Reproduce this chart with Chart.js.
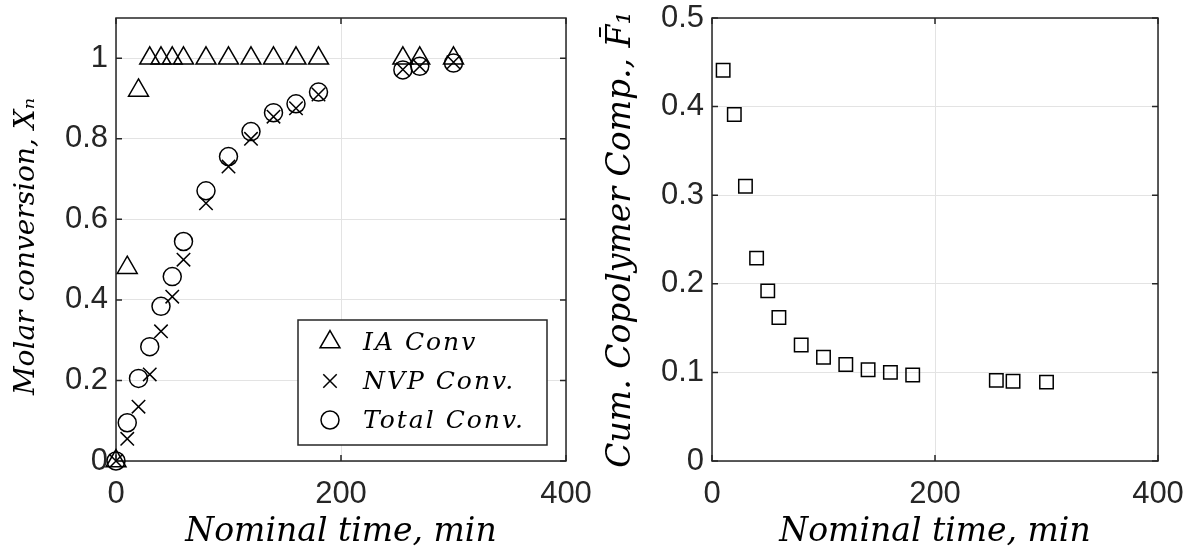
<!DOCTYPE html>
<html>
<head>
<meta charset="utf-8">
<script src="https://cdn.jsdelivr.net/npm/chart.js@4/dist/chart.umd.min.js"></script>
<style>
    html, body { margin: 0; padding: 0; background: #fff; }
    .panel { position: absolute; top: 0; width: 599px; height: 555px; }
</style>
</head>
<body>
<div class="panel" style="left:0"><canvas id="convChart"></canvas></div>
<div class="panel" style="left:599px"><canvas id="compChart"></canvas></div>
<script>
// Data
const timeMin   = [0, 10, 20, 30, 40, 50, 60, 80, 100, 120, 140, 160, 180, 255, 270, 300];
const iaConv    = [0, 0.48, 0.92, 1, 1, 1, 1, 1, 1, 1, 1, 1, 1, 1, 1, 1];
const nvpConv   = [0, 0.055, 0.135, 0.215, 0.322, 0.408, 0.50, 0.64, 0.731, 0.80, 0.855, 0.876, 0.91, 0.972, 0.98, 0.99];
const totalConv = [0, 0.095, 0.205, 0.284, 0.384, 0.458, 0.545, 0.671, 0.756, 0.818, 0.865, 0.887, 0.916, 0.971, 0.98, 0.988];
const seriesLabels = ['IA Conv', 'NVP Conv.', 'Total Conv.'];

const compTime = [10, 20, 30, 40, 50, 60, 80, 100, 120, 140, 160, 180, 255, 270, 300];
const cumF1    = [0.441, 0.391, 0.31, 0.229, 0.192, 0.162, 0.131, 0.117, 0.109, 0.103, 0.100, 0.097, 0.091, 0.090, 0.089];

const timeTicks = [0, 200, 400];
const convTicks = [0, 0.2, 0.4, 0.6, 0.8, 1];
const compTicks = [0, 0.1, 0.2, 0.3, 0.4, 0.5];

const axisColor = '#262626';
const gridColor = '#e3e3e3';
const tickFont = { family: '"Liberation Sans", Arial, sans-serif', size: 31 };
const titleFont = { family: '"DejaVu Serif", serif', size: 33, style: 'italic' };

function pts(xs, ys) {
    return xs.map(function (x, i) { return { x: x, y: ys[i] }; });
}

function fmt(v) {
    return String(Math.round(v * 10) / 10);
}

// box around the plot area plus short inward ticks on all four sides
const framePlugin = {
    id: 'frame',
    beforeDatasetsDraw(chart) {
        const ctx = chart.ctx, a = chart.chartArea;
        const sx = chart.scales.x, sy = chart.scales.y;
        const len = 6;
        ctx.save();
        ctx.strokeStyle = axisColor;
        ctx.lineWidth = 1.5;
        ctx.beginPath();
        sx.ticks.forEach(function (t) {
            const px = sx.getPixelForValue(t.value);
            ctx.moveTo(px, a.bottom); ctx.lineTo(px, a.bottom - len);
            ctx.moveTo(px, a.top); ctx.lineTo(px, a.top + len);
        });
        sy.ticks.forEach(function (t) {
            const py = sy.getPixelForValue(t.value);
            ctx.moveTo(a.left, py); ctx.lineTo(a.left + len, py);
            ctx.moveTo(a.right, py); ctx.lineTo(a.right - len, py);
        });
        ctx.stroke();
        ctx.strokeRect(a.left, a.top, a.right - a.left, a.bottom - a.top);
        ctx.restore();
    }
};

// MATLAB-style boxed legend in the lower right corner
const boxLegend = {
    id: 'boxLegend',
    afterDatasetsDraw(chart) {
        const ctx = chart.ctx, a = chart.chartArea;
        const w = 249, h = 125;
        const x0 = a.right - 19 - w, y0 = a.bottom - 16 - h;
        ctx.save();
        ctx.fillStyle = '#fff';
        ctx.fillRect(x0, y0, w, h);
        ctx.strokeStyle = axisColor;
        ctx.lineWidth = 1.5;
        ctx.strokeRect(x0, y0, w, h);
        chart.data.datasets.forEach(function (ds, i) {
            const cy = y0 + 22 + i * 39;
            ctx.strokeStyle = '#000';
            ctx.fillStyle = 'rgba(0,0,0,0)';
            ctx.lineWidth = ds.pointBorderWidth;
            Chart.helpers.drawPoint(ctx, {
                pointStyle: ds.pointStyle,
                radius: ds.pointRadius,
                borderWidth: ds.pointBorderWidth,
                rotation: 0
            }, x0 + 32, cy);
            ctx.fillStyle = '#000';
            ctx.font = 'italic 25px "DejaVu Serif", serif';
            if ('letterSpacing' in ctx) ctx.letterSpacing = '2px';
            ctx.textBaseline = 'middle';
            ctx.textAlign = 'left';
            ctx.fillText(ds.label, x0 + 65, cy + 1);
            if ('letterSpacing' in ctx) ctx.letterSpacing = '0px';
        });
        ctx.restore();
    }
};

function scatterSet(label, data, style, radius) {
    return {
        label: label,
        data: data,
        showLine: false,
        clip: false,
        pointStyle: style,
        pointRadius: radius,
        pointHoverRadius: radius,
        pointBorderWidth: 1.5,
        borderColor: '#000',
        backgroundColor: 'rgba(0,0,0,0)'
    };
}

function scales(yTicks, yMax, yTitle, yTitleSize, yTitlePad, yWidth) {
    return {
        x: {
            type: 'linear',
            min: 0,
            max: 400,
            afterBuildTicks: function (s) { s.ticks = timeTicks.map(function (v) { return { value: v }; }); },
            afterFit: function (s) {
                s.height = 94;
                s.paddingLeft = 0;
                s.paddingRight = 0;
            },
            grid: { color: gridColor, lineWidth: 1, drawTicks: false },
            border: { display: false },
            ticks: { padding: 15, color: axisColor, font: tickFont, maxRotation: 0, callback: fmt },
            title: { display: true, text: 'Nominal time, min', color: '#000', font: titleFont, padding: { top: 0, bottom: 3 } }
        },
        y: {
            type: 'linear',
            min: 0,
            max: yMax,
            afterBuildTicks: function (s) { s.ticks = yTicks.map(function (v) { return { value: v }; }); },
            afterFit: function (s) {
                s.width = yWidth;
                s.paddingTop = 0;
                s.paddingBottom = 0;
            },
            grid: { color: gridColor, lineWidth: 1, drawTicks: false },
            border: { display: false },
            ticks: { padding: 8, color: axisColor, font: tickFont, callback: fmt },
            title: {
                display: true, text: yTitle, color: '#000',
                font: { family: titleFont.family, size: yTitleSize, style: 'italic' },
                padding: { top: yTitlePad, bottom: 0 }
            }
        }
    };
}

// Left: molar conversions
new Chart(document.getElementById('convChart').getContext('2d'), {
    type: 'scatter',
    data: {
        datasets: [
            scatterSet(seriesLabels[0], pts(timeMin, iaConv), 'triangle', 11.5),
            scatterSet(seriesLabels[1], pts(timeMin, nvpConv), 'crossRot', 9.5),
            scatterSet(seriesLabels[2], pts(timeMin, totalConv), 'circle', 9)
        ]
    },
    options: {
        responsive: true,
        maintainAspectRatio: false,
        animation: false,
        events: [],
        layout: { padding: { left: 0, right: 33, top: 18, bottom: 0 } },
        plugins: { legend: { display: false }, tooltip: { enabled: false } },
        scales: scales(convTicks, 1.1, 'Molar conversion, X\u2099\u2002', 28, 10, 116)
    },
    plugins: [framePlugin, boxLegend]
});

// Right: cumulative copolymer composition
new Chart(document.getElementById('compChart').getContext('2d'), {
    type: 'scatter',
    data: {
        datasets: [
            scatterSet('F1', pts(compTime, cumF1), 'rect', 9.5)
        ]
    },
    options: {
        responsive: true,
        maintainAspectRatio: false,
        animation: false,
        events: [],
        layout: { padding: { left: 0, right: 40, top: 18, bottom: 0 } },
        plugins: { legend: { display: false }, tooltip: { enabled: false } },
        scales: scales(compTicks, 0.5, 'Cum. Copolymer Comp., F\u0304\u2081', 33, 3, 113)
    },
    plugins: [framePlugin]
});
</script>
</body>
</html>
